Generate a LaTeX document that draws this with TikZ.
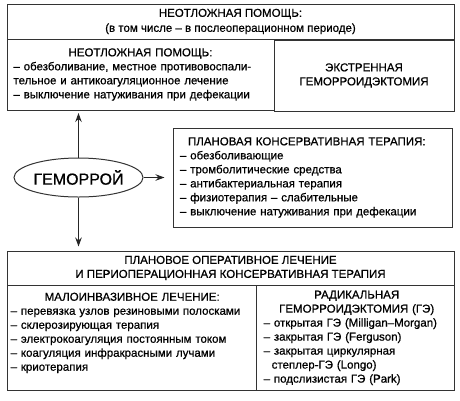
\documentclass[tikz,border=0pt]{standalone}
\usepackage{fontspec}
\setmainfont{Liberation Sans}[FakeBold=0.7]
\usetikzlibrary{positioning,arrows.meta,shapes.geometric,calc}

\begin{document}
\begin{tikzpicture}[x=1pt,y=-1pt]
	\tikzset{cell/.style={draw=black!80,line width=1pt,inner sep=0pt,minimum width=#1},
		txt/.style={font=\fontsize{11.5}{14}\selectfont,inner sep=0pt,align=left},
		arr/.style={-{Stealth[length=9pt,width=6.5pt]},line width=1.1pt,draw=black!85}}
	\useasboundingbox (0,0) rectangle (460,400);
	% верхний блок
	\node [cell=447pt,minimum height=35pt,txt,font=\fontsize{11.5}{15}\selectfont,align=center] (urg) at (230.5,21.5)
		{НЕОТЛОЖНАЯ ПОМОЩЬ:\\(в том числе -- в послеоперационном периоде)};
	\node [cell=267pt,minimum height=71pt,txt,text width=254pt] (urgl) at (140.5,74.5)
		{\centerline{НЕОТЛОЖНАЯ ПОМОЩЬ:}
		-- обезболивание, местное противовоспали-\\
		тельное и антикоагуляционное лечение\\
		-- выключение натуживания при дефекации};
	\node [cell=180pt,minimum height=71pt,txt,align=center] (urgr) at (364,75.5)
		{ЭКСТРЕННАЯ\\ГЕМОРРОИДЭКТОМИЯ};
	% центр
	\node [draw=black!80,line width=1pt,ellipse,minimum width=129pt,minimum height=39pt,inner sep=0pt,
		font=\fontsize{16}{18}\selectfont] (hem) at (78.5,177.5) {ГЕМОРРОЙ};
	\node [cell=279pt,minimum height=99pt,txt,text width=265pt] (cons) at (312.5,177.5)
		{\hspace*{8pt}ПЛАНОВАЯ КОНСЕРВАТИВНАЯ ТЕРАПИЯ:\\
		-- обезболивающие\\
		-- тромболитические средства\\
		-- антибактериальная терапия\\
		-- физиотерапия -- слабительные\\
		-- выключение натуживания при дефекации};
	% нижний блок
	\node [cell=447pt,minimum height=34pt,txt,align=center] (oper) at (230.5,268)
		{ПЛАНОВОЕ ОПЕРАТИВНОЕ ЛЕЧЕНИЕ\\И ПЕРИОПЕРАЦИОННАЯ КОНСЕРВАТИВНАЯ ТЕРАПИЯ};
	\node [cell=249pt,minimum height=105pt] (minv) at (131.5,337.5) {};
	\node [cell=198pt,minimum height=105pt] (rad) at (355,337.5) {};
	\node [txt,text width=243pt,anchor=north west] (minvt) at ($(minv.north west)+(4,8)$)
		{\centerline{МАЛОИНВАЗИВНОЕ ЛЕЧЕНИЕ:}
		-- перевязка узлов резиновыми полосками\\
		-- склерозирующая терапия\\
		-- электрокоагуляция постоянным током\\
		-- коагуляция инфракрасными лучами\\
		-- криотерапия};
	\node [txt,text width=186pt,anchor=north west] (radt) at ($(rad.north west)+(8,6)$)
		{\centerline{РАДИКАЛЬНАЯ}
		\centerline{ГЕМОРРОИДЭКТОМИЯ (ГЭ)}
		-- открытая ГЭ (Milligan--Morgan)\\
		-- закрытая ГЭ (Ferguson)\\
		-- закрытая циркулярная\\
		\hspace*{8pt}степлер-ГЭ (Longo)\\
		-- подслизистая ГЭ (Park)};
	% стрелки
	\draw [arr,shorten >=2.5pt] (hem) -- (hem |- urgl.south);
	\draw [arr,shorten >=4pt] (hem) -- (hem |- oper.north);
	\draw [arr,shorten >=8pt] (hem) -- (cons);
\end{tikzpicture}
\end{document}
